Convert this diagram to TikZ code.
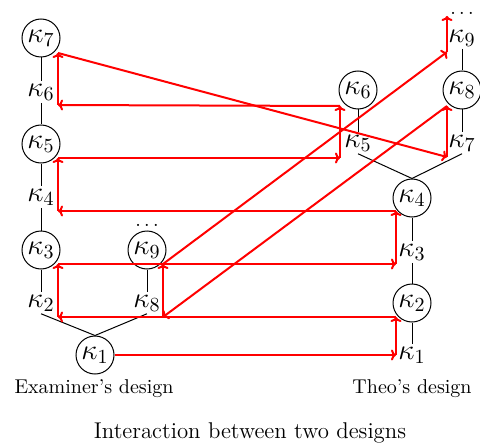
\documentclass[tikz,border=0pt]{standalone}
\usetikzlibrary{arrows.meta}
\begin{document}
\begin{tikzpicture}[x=0.5pt,y=-0.5pt,
  circ/.style={circle,draw,line width=0.5pt,minimum size=19pt,inner sep=0pt,font=\Large},
  lab/.style={inner sep=1pt,font=\Large},
  dotsnode/.style={anchor=base,inner sep=0pt,font=\normalsize},
  conn/.style={line width=0.5pt},
  mv/.style={red,line width=1pt,-{To[length=2.5pt,width=5.5pt]}},
  captext/.style={anchor=base,font=\normalsize}]
\useasboundingbox (0,0) rectangle (480,443);
% Examiner's design
\node[circ] (e7) at (41,38) {$\kappa_7$};
\node[lab]  (e6) at (41,92) {$\kappa_6$};
\node[circ] (e5) at (41,144) {$\kappa_5$};
\node[lab]  (e4) at (41,197) {$\kappa_4$};
\node[circ] (e3) at (41,250) {$\kappa_3$};
\node[lab]  (e2) at (41,303) {$\kappa_2$};
\node[circ] (e1) at (95,355) {$\kappa_1$};
\node[circ] (e9) at (147,250) {$\kappa_9$};
\node[lab]  (e8) at (147,303) {$\kappa_8$};
\node[dotsnode] (ed) at (147,226) {$\ldots$};
\draw[conn] (e7) -- (e6);
\draw[conn] (e6) -- (e5);
\draw[conn] (e5) -- (e4);
\draw[conn] (e4) -- (e3);
\draw[conn] (e3) -- (e2);
\draw[conn] (e2.south) -- (e1.north);
\draw[conn] (e9) -- (e8);
\draw[conn] (e8.south) -- (e1.north);
% Theo's design
\node[dotsnode] (td) at (462,15) {$\ldots$};
\node[lab]  (t9) at (462,38) {$\kappa_9$};
\node[circ] (t8) at (462,90) {$\kappa_8$};
\node[lab]  (t7) at (462,143) {$\kappa_7$};
\node[circ] (t6) at (358,90) {$\kappa_6$};
\node[lab]  (t5) at (358,143) {$\kappa_5$};
\node[circ] (t4) at (412,198) {$\kappa_4$};
\node[lab]  (t3) at (412,252) {$\kappa_3$};
\node[circ] (t2) at (412,303) {$\kappa_2$};
\node[lab]  (t1) at (412,355) {$\kappa_1$};
\draw[conn] (t9) -- (t8);
\draw[conn] (t8) -- (t7);
\draw[conn] (t6) -- (t5);
\draw[conn] (t5.south) -- (t4.north);
\draw[conn] (t7.south) -- (t4.north);
\draw[conn] (t4) -- (t3);
\draw[conn] (t3) -- (t2);
\draw[conn] (t2) -- (t1);
% captions
\node[captext] (capE) at (94,393) {Examiner's design};
\node[captext] (capT) at (412,393) {Theo's design};
\node[captext,font=\fontsize{11.4}{13}\selectfont] (title) at (250,438) {Interaction between two designs};
% move points
\coordinate (pE7) at (58,53);
\coordinate (pE6) at (58,105);
\coordinate (pE5) at (58,158);
\coordinate (pE4) at (58,211);
\coordinate (pE3) at (58,264);
\coordinate (pE2) at (58,317);
\coordinate (pE9) at (163,264);
\coordinate (pE8) at (163,317);
\coordinate (pT1) at (396,355);
\coordinate (pT2) at (396,317);
\coordinate (pT3) at (396,264);
\coordinate (pT4) at (396,211);
\coordinate (pT5) at (340,158);
\coordinate (pT6) at (340,106);
\coordinate (pT7) at (447,157);
\coordinate (pT8) at (447,106);
\coordinate (pT9) at (447,52);
\coordinate (pTd) at (447,16);
% moves
\draw[mv] (e1.east) -- (pT1);
\draw[mv] (pT1) -- (pT2);
\draw[mv] (pT2) -- (pE2);
\draw[mv] (pE2) -- (pE3);
\draw[mv] (pE3) -- (pT3);
\draw[mv] (pT3) -- (pT4);
\draw[mv] (pT4) -- (pE4);
\draw[mv] (pE4) -- (pE5);
\draw[mv] (pE5) -- (pT5);
\draw[mv] (pT5) -- (pT6);
\draw[mv] (pT6) -- (pE6);
\draw[mv] (pE6) -- (pE7);
\draw[mv] (pE7) -- (pT7);
\draw[mv] (pT7) -- (pT8);
\draw[mv] (pT8) -- (pE8);
\draw[mv] (pE8) -- (pE9);
\draw[mv] (pE9) -- (pT9);
\draw[mv] (pT9) -- (pTd);
\end{tikzpicture}
\end{document}
